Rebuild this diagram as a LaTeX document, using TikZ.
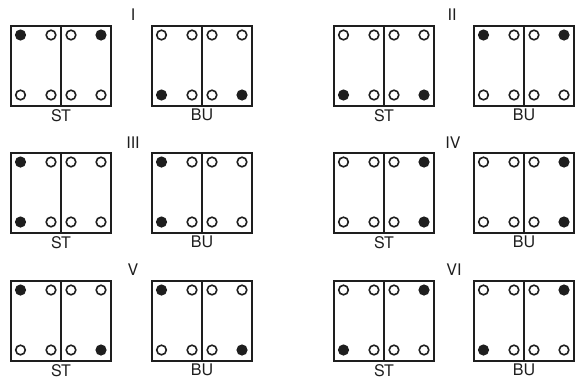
\documentclass[tikz,border=0pt]{standalone}
\usepackage{fontspec}
\setmainfont{TeX Gyre Heros}
\usetikzlibrary{positioning}
\definecolor{ink}{RGB}{30,30,30}
\tikzset{
  board/.style={draw=ink,line width=1.8pt},
  split/.style={draw=ink,line width=1.3pt},
  pin/.style={draw=ink,line width=1.6pt,fill=white},
  pinset/.style={fill=ink},
  tag/.style={font=\fontsize{16}{16}\selectfont,text=ink,inner sep=0pt},
  numeral/.style={tag},
}
% #1 name, #2 left, #3 top, #4 top pins, #5 bottom pins, #6 label
\newcommand{\pinbox}[6]{%
  \draw[board] (#2,#3) rectangle ++(100,80);
  \draw[split] (#2+50,#3) -- ++(0,80);
  \foreach \s [count=\i] in {#4}{
    \pgfmathsetmacro\dx{{9.5,40,60,90}[\i-1]}
    \ifnum\s=1 \fill[pinset] (#2+\dx,#3+9) circle[radius=5.6pt];
    \else \draw[pin] (#2+\dx,#3+9) circle[radius=4.8pt]; \fi
  }
  \foreach \s [count=\i] in {#5}{
    \pgfmathsetmacro\dx{{9.5,40,60,90}[\i-1]}
    \ifnum\s=1 \fill[pinset] (#2+\dx,#3+69) circle[radius=5.6pt];
    \else \draw[pin] (#2+\dx,#3+69) circle[radius=4.8pt]; \fi
  }
  \node[tag,anchor=north] (#1) at (#2+50,#3+83) {#6};
}

\begin{document}
\begin{tikzpicture}[x=1pt,y=-1pt]
  \useasboundingbox (0,0) rectangle (575,381);

  % row 1
  \node[numeral] (n1) at (133,15) {I};
  \pinbox{st1}{11}{26}{1,0,0,1}{0,0,0,0}{ST}
  \pinbox{bu1}{152}{26}{0,0,0,0}{1,0,0,1}{BU}
  \node[numeral] (n2) at (452,15) {II};
  \pinbox{st2}{334}{26}{0,0,0,0}{1,0,0,1}{ST}
  \pinbox{bu2}{474}{26}{1,0,0,1}{0,0,0,0}{BU}

  % row 2
  \node[numeral] (n3) at (133,143) {III};
  \pinbox{st3}{11}{153}{1,0,0,0}{1,0,0,0}{ST}
  \pinbox{bu3}{152}{153}{1,0,0,0}{1,0,0,0}{BU}
  \node[numeral] (n4) at (453,143) {IV};
  \pinbox{st4}{334}{153}{0,0,0,1}{0,0,0,1}{ST}
  \pinbox{bu4}{474}{153}{0,0,0,1}{0,0,0,1}{BU}

  % row 3
  \node[numeral] (n5) at (133,270) {V};
  \pinbox{st5}{11}{281}{1,0,0,0}{0,0,0,1}{ST}
  \pinbox{bu5}{152}{281}{1,0,0,0}{0,0,0,1}{BU}
  \node[numeral] (n6) at (454,270) {VI};
  \pinbox{st6}{334}{281}{0,0,0,1}{1,0,0,0}{ST}
  \pinbox{bu6}{474}{281}{0,0,0,1}{1,0,0,0}{BU}
\end{tikzpicture}
\end{document}
